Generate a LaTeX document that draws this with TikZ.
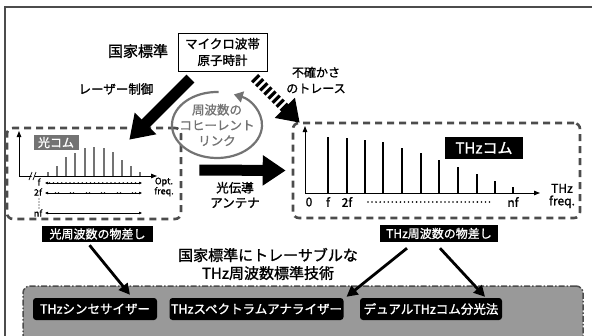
\documentclass[tikz,border=0pt]{standalone}
\usepackage{fontspec}
\setmainfont{Noto Sans CJK JP}[FakeBold=1.3]
\usetikzlibrary{arrows.meta,calc}
\definecolor{dgray}{gray}{0.3}
\definecolor{mgray}{gray}{0.45}
\definecolor{lgray}{gray}{0.6}
\newcommand\fsz[2]{\fontsize{#1}{#2}\selectfont}
\tikzset{
  dbox/.style={draw=dgray, line width=2.6pt, dash pattern=on 7pt off 5pt, rounded corners=6pt, inner sep=0pt},
  blabel/.style={fill=black, text=white, inner sep=0pt, font=\fsz{12}{14}},
  bbox/.style={fill=black, text=white, rounded corners=3pt, inner sep=0pt, minimum height=22pt, font=\fsz{12.5}{14}},
  bigarrow/.style={line width=11pt, -{Triangle[length=23pt,width=29pt]}},
  thinarrow/.style={line width=2.8pt, -{Triangle[length=11pt,width=11pt]}},
  axisarrow/.style={line width=1pt, -{Triangle[length=6pt,width=4.5pt]}},
  smallarrow/.style={line width=0.6pt, {Triangle[length=3pt,width=2.5pt]}-{Triangle[length=3pt,width=2.5pt]}},
  lcombline/.style={mgray, line width=1.4pt},
  rcombline/.style={black, line width=1.6pt},
}
\begin{document}
\begin{tikzpicture}[x=1pt,y=-1pt]
\useasboundingbox (0,0) rectangle (592,335);
% outer frame
\draw[dgray, line width=1.2pt] (5,340) -- (5,7) -- (595,7);

% top part
\node[font=\fsz{15}{18}] (kokka) at (138,51) {国家標準};
\node[draw, line width=1pt, minimum width=89pt, minimum height=38pt, align=center, font=\fsz{12.5}{16.5}, inner sep=0pt] (clock) at (222.5,52) {マイクロ波帯\\原子時計};
\node[font=\fsz{12.5}{15}] (laser) at (116,89) {レーザー制御};
\node[font=\fsz{12}{16}, align=center] (uncert) at (316,80) {不確かさ\\のトレース};

% dashed boxes
\node[dbox, minimum width=174pt, minimum height=91pt] (lbox) at (94,173.5) {};
\node[dbox, minimum width=287pt, minimum height=95pt] (rbox) at (436.5,170.5) {};

% coherent link
\node[text=mgray, font=\fsz{12.5}{15.5}, align=center] (link) at (217,125) {周波数の\\コヒーレント\\リンク};
\draw[mgray, line width=2.2pt, -{Triangle[length=9pt,width=11pt]}] (link.center) ++(-88:45 and 33) arc[start angle=-88, end angle=-428, x radius=45, y radius=33];

% big arrows
\draw[bigarrow] ($(clock.south west)+(13,7)$) -- ($(lbox.north east)+(-53,13)$);
\draw[line width=10pt, dash pattern=on 3.2pt off 2.6pt, -{Triangle[length=21pt,width=27pt]}] ($(clock.south east)+(-13,6)$) -- ($(rbox.north west)+(8,1)$);
\draw[bigarrow] ($(lbox.east)+(17,-3.5)$) -- ($(rbox.west)+(-6,0)$);
\node[font=\fsz{12.5}{15}, align=center] (pc) at (235,195) {光伝導\\アンテナ};

% left comb
\draw[axisarrow] (19,176) -- (19,131);
\draw[axisarrow] (19,176) -- (157,176);
\fill[white] (30,172) -- (33,172) -- (36,180) -- (33,180) -- cycle;
\draw[line width=0.7pt] (29,180) -- (32,172) (33,180) -- (36,172);
\foreach \x/\t in {48/172,57/166,66/157,75/153,85/148,94/147,104/148,113/152,122/160,131/166,140/172}
  \draw[lcombline] (\x,176) -- (\x,\t);
\node[fill=mgray, text=white, font=\fsz{12}{14}, minimum width=45pt, minimum height=15pt, inner sep=0pt] (lcomb) at (56,142.5) {光コム};
\node[font=\fsz{9}{10}] (f1) at (39,182) {f};
\node[font=\fsz{9}{10}] (f2) at (38,192) {2f};
\node[font=\fsz{9}{10}] (fn) at (38,213) {nf};
\foreach \y in {199,202,205,208} \fill (39,\y) circle (0.7pt);
\draw[smallarrow] (45,183) -- (142,183);
\foreach \i in {0,...,22} \fill (49.5+\i*4.1,183) circle (0.9pt);
\draw[smallarrow] (45,193) -- (142,193);
\foreach \x in {57,72,88,103,119,134} {\fill (\x-1.6,193) circle (0.9pt); \fill (\x+1.6,193) circle (0.9pt);}
\draw[smallarrow] (45,213) -- (142,213);
\node[font=\fsz{9}{10}, align=center] (opt) at (164,187) {Opt.\\freq.};
\node[blabel, minimum width=111pt, minimum height=16pt] (lruler) at (97.5,234) {光周波数の物差し};

% right comb
\draw[axisarrow] (305,193) -- (305,126);
\draw[axisarrow] (305,193) -- (540,193);
\foreach \x/\t in {328/137,347/138,365/140,383/142,402/148,421/153,439/160,458/167,477/174,495/181,513/187}
  \draw[rcombline] (\x,193) -- (\x,\t);
\node[fill=black, text=white, font=\fsz{15}{17}, minimum width=78pt, minimum height=22pt, inner sep=0pt] (tcomb) at (484,148) {THzコム};
\node[font=\fsz{12}{14}] (z0) at (309,202) {0};
\node[font=\fsz{12}{14}] (zf) at (328,202) {f};
\node[font=\fsz{12}{14}] (z2f) at (347,202) {2f};
\foreach \i in {0,...,30} \fill (368+\i*4.05,202) circle (0.9pt);
\node[font=\fsz{12}{14}] (znf) at (513,202) {nf};
\node[font=\fsz{12}{12.5}, align=center] (thzf) at (562,196) {THz\\freq.};
\node[blabel, minimum width=118pt, minimum height=17pt] (rruler) at (439,233.5) {THz周波数の物差し};

% bottom
\node[font=\fsz{15}{18}, align=center] (trace) at (268,264) {国家標準にトレーサブルな\\THz周波数標準技術};
\node[draw=dgray, fill=lgray, line width=1.5pt, dash pattern=on 6pt off 2pt on 1.5pt off 2pt, rounded corners=7pt, minimum width=560pt, minimum height=64pt, inner sep=0pt] (tech) at (303,318) {};
\node[bbox, minimum width=124pt] (synth) at (95,309) {THzシンセサイザー};
\node[bbox, minimum width=174pt] (spec) at (256.5,309) {THzスペクトラムアナライザー};
\node[bbox, minimum width=142pt] (dual) at (431,309) {デュアルTHzコム分光法};

\draw[thinarrow] ($(lruler.south)+(-8,3)$) -- ($(synth.north)+(35,-3)$);
\draw[thinarrow] ($(rruler.south)+(-32,6)$) -- ($(spec.north)+(90,-1)$);
\draw[thinarrow] ($(rruler.south)+(1,6)$) -- ($(dual.north)+(54,-1)$);
\end{tikzpicture}
\end{document}
